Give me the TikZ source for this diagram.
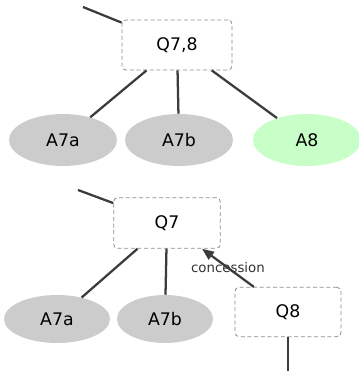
\documentclass[tikz,border=0pt]{standalone}
\usepackage{fontspec}
\setmainfont{DejaVu Sans}
\usetikzlibrary{shapes.geometric,arrows.meta}
\definecolor{answergray}{RGB}{204,204,204}
\definecolor{answergreen}{RGB}{200,255,200}
\definecolor{edgegray}{RGB}{60,60,60}
\definecolor{boxgray}{RGB}{140,140,140}
\begin{document}
\begin{tikzpicture}[x=0.75pt,y=0.75pt,yscale=-1,xscale=1,
    qbox/.style={draw=boxgray, dash pattern=on 3pt off 2pt, rounded corners=3pt, line width=0.6pt, font=\fontsize{13}{15}\selectfont},
    ans/.style={ellipse, fill=answergray, minimum width=81pt, minimum height=39pt, inner sep=0pt, font=\fontsize{13}{15}\selectfont},
    link/.style={draw=edgegray, line width=1.7pt}]
    \useasboundingbox (0,0) rectangle (358,371);

    % upper tree
    \coordinate (topin) at (83,7);
    \node [qbox, minimum width=82.5pt, minimum height=37.5pt] (q78) at (177,45) {Q7,8};
    \node [ans] (a7a) at (63,140) {A7a};
    \node [ans] (a7b) at (179,140) {A7b};
    \node [ans, fill=answergreen] (a8) at (307,140) {A8};
    \draw [link] (topin) -- (q78);
    \draw [link] (q78) -- (a7a);
    \draw [link] (q78) -- (a7b);
    \draw [link] (q78) -- (a8);

    % lower tree
    \coordinate (botin) at (78,190);
    \node [qbox, minimum width=80pt, minimum height=38pt] (q7) at (167,223) {Q7};
    \node [ans, minimum width=79.5pt, minimum height=36pt] (b7a) at (57,319) {A7a};
    \node [ans, minimum width=72pt, minimum height=36pt] (b7b) at (165,319) {A7b};
    \node [qbox, minimum width=79.5pt, minimum height=37pt] (q8) at (288,312) {Q8};
    \coordinate (botout) at (288,371);
    \draw [link] (botin) -- (q7);
    \draw [link] (q7) -- (b7a);
    \draw [link] (q7) -- (b7b);
    \draw [link] (q8) -- (botout);
    \draw [link, -{Triangle[length=9pt,width=7pt]}] (q8) -- (q7)
        node [midway, font=\fontsize{10}{12}\selectfont, text=black!80] {concession};

\end{tikzpicture}
\end{document}
